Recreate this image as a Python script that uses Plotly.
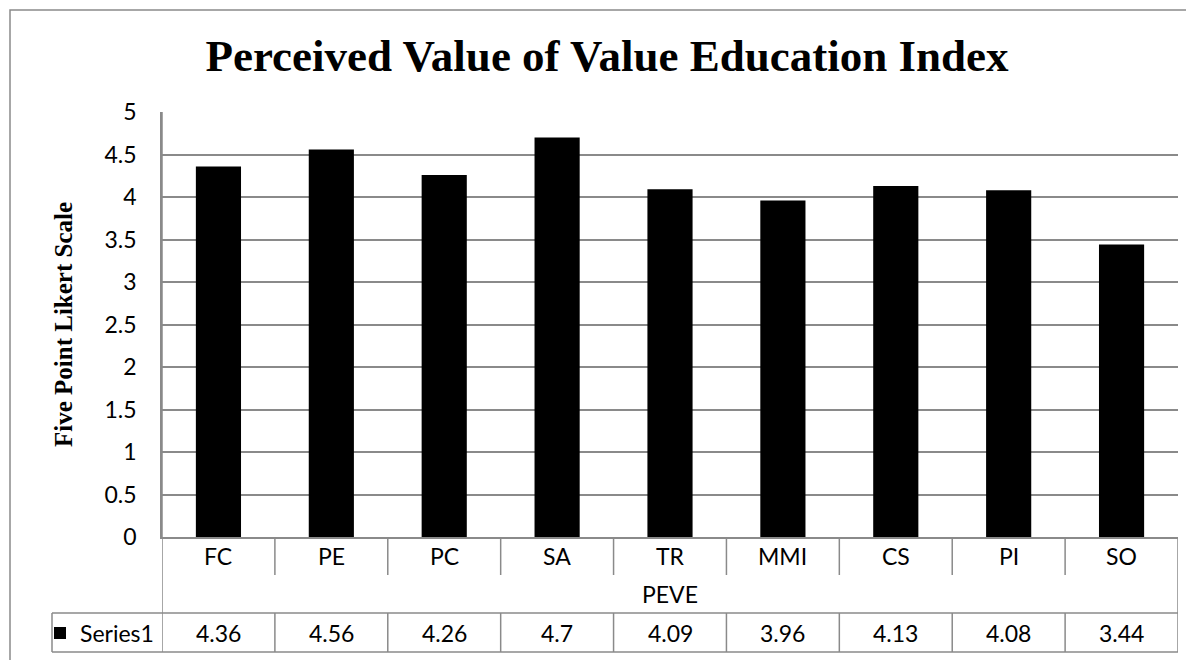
import plotly.graph_objects as go

categories = ["FC", "PE", "PC", "SA", "TR", "MMI", "CS", "PI", "SO"]
values = [4.36, 4.56, 4.26, 4.7, 4.09, 3.96, 4.13, 4.08, 3.44]
series_name = "Series1"
x_title = "PEVE"
y_title = "Five Point Likert Scale"
chart_title = "Perceived Value of Value Education Index"
y_ticks = [0, 0.5, 1, 1.5, 2, 2.5, 3, 3.5, 4, 4.5, 5]

O = 8  # default page margin of the browser
W, H = 1194 - O, 660 - O
PL, PT, PR, PB = 162, 112, 1178, 537  # plot area in screen pixels
L, T = PL - O, PT - O
R = W + O - PR
B = H + O - PB
plot_h = PB - PT
plot_w = PR - PL


def py(y):
    return (PB - y) / plot_h


def pxx(x):
    return (x - PL) / plot_w


GRID = "#8a8a8a"
SANS = "Lato"
SERIF = "Liberation Serif"
FS = 23
n = len(categories)

fig = go.Figure()
fig.add_trace(go.Bar(
    x=list(range(n)), y=values, name=series_name,
    marker=dict(color="black", line=dict(width=0)),
    width=0.4, showlegend=True,
))

shapes = []
line = dict(color=GRID, width=1.5)
for i in range(n + 1):
    xb = i - 0.5
    if 0 < i < n:
        shapes.append(dict(type="line", xref="x", yref="paper", x0=xb, x1=xb,
                           y0=0, y1=py(575), line=line))
        shapes.append(dict(type="line", xref="x", yref="paper", x0=xb, x1=xb,
                           y0=py(613), y1=py(652), line=line))
    else:
        shapes.append(dict(type="line", xref="x", yref="paper", x0=xb, x1=xb,
                           y0=(1 if i == 0 else 0), y1=py(652), line=line))
for yy in (613, 652):
    shapes.append(dict(type="line", xref="paper", yref="paper", x0=pxx(52), x1=1,
                       y0=py(yy), y1=py(yy), line=line))
shapes.append(dict(type="line", xref="paper", yref="paper", x0=pxx(52), x1=pxx(52),
                   y0=py(613), y1=py(652), line=line))
shapes.append(dict(type="rect", xref="paper", yref="paper", x0=pxx(10), x1=pxx(1210),
                   y0=py(680), y1=py(10), line=dict(color=GRID, width=1.5),
                   fillcolor="rgba(0,0,0,0)", layer="below"))

annotations = []
tf = dict(family=SANS, size=FS, color="black")
for i, (c, v) in enumerate(zip(categories, values)):
    annotations.append(dict(x=i, y=py(556), xref="x", yref="paper", text=c,
                            xanchor="center", yanchor="middle", showarrow=False, font=tf))
    annotations.append(dict(x=i, y=py(633), xref="x", yref="paper", text=f"{v:g}",
                            xanchor="center", yanchor="middle", showarrow=False, font=tf))
annotations.append(dict(x=0.5, y=py(594), xref="paper", yref="paper", text=x_title,
                        xanchor="center", yanchor="middle", showarrow=False, font=tf))

fig.update_layout(
    width=W, height=H,
    margin=dict(l=L, r=R, t=T, b=B, pad=0, autoexpand=False),
    paper_bgcolor="white", plot_bgcolor="white",
    title=dict(text=chart_title, x=(607 - O) / W, xanchor="center",
               y=1 - (55 - O) / H, yanchor="middle", yref="container",
               font=dict(family=SERIF, size=45, color="black", weight="bold")),
    xaxis=dict(type="linear", range=[-0.5, n - 0.5], showticklabels=False, showgrid=False,
               zeroline=False, showline=True, linecolor=GRID, linewidth=1.5, ticks=""),
    yaxis=dict(range=[0, 5], tickvals=y_ticks, showgrid=True, gridcolor=GRID, gridwidth=1.5,
               zeroline=False, showline=True, linecolor=GRID, linewidth=1.5, ticks="",
               ticklabelstandoff=19,
               tickfont=dict(family=SANS, size=FS, color="black"),
               title=dict(text=y_title, standoff=25,
                          font=dict(family=SERIF, size=25, color="black", weight="bold"))),
    legend=dict(x=pxx(40), y=py(633), xanchor="left", yanchor="middle",
                bgcolor="rgba(0,0,0,0)", font=dict(family=SANS, size=FS, color="black"),
                itemwidth=30),
    shapes=shapes, annotations=annotations,
    showlegend=True,
)

fig.write_html("out.html")
